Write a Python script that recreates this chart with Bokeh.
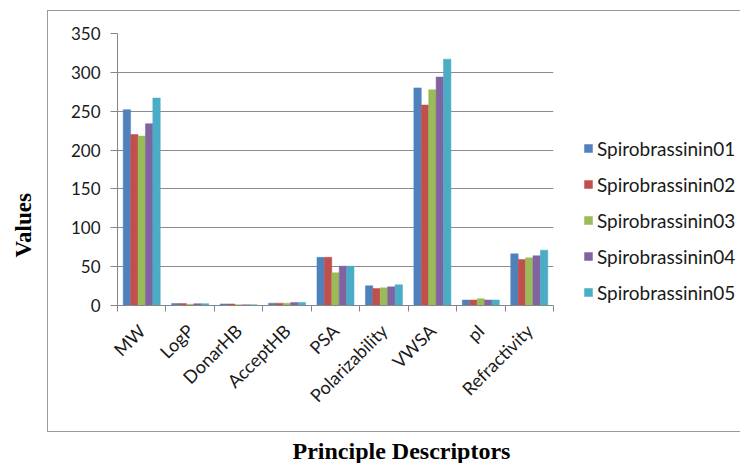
import numpy as np
from bokeh.plotting import figure
from bokeh.models import (ColumnDataSource, FixedTicker, Range1d, Legend, LegendItem,
                          Title, InlineStyleSheet)
from bokeh.transform import dodge
from bokeh.embed import file_html
from bokeh.resources import INLINE

categories = ["MW", "LogP", "DonarHB", "AcceptHB", "PSA", "Polarizability", "VWSA", "pI", "Refractivity"]
series_names = ["Spirobrassinin01", "Spirobrassinin02", "Spirobrassinin03", "Spirobrassinin04", "Spirobrassinin05"]
s01 = [252, 2.6, 2.0, 3.0, 62.0, 25.3, 280.0, 7.0, 66.5]
s02 = [220, 2.6, 2.0, 3.0, 62.0, 21.9, 258.0, 7.0, 59.2]
s03 = [218, 1.6, 1.0, 3.0, 42.0, 22.7, 277.5, 8.6, 61.3]
s04 = [234, 2.4, 1.0, 4.0, 50.6, 24.0, 294.0, 7.0, 64.0]
s05 = [267, 2.4, 1.0, 4.0, 50.6, 26.6, 317.0, 7.0, 71.2]
series_values = [s01, s02, s03, s04, s05]
colors = ["#4F81BD", "#C0504D", "#9BBB59", "#8064A2", "#4BACC6"]
y_ticks = [0, 50, 100, 150, 200, 250, 300, 350]

centers = [i + 0.5 for i in range(len(categories))]
data = {"x": centers}
for name, vals in zip(series_names, series_values):
    data[name] = vals
source = ColumnDataSource(data)

FL, FR, FT, FB = 117, 553, 33, 305
W, H = 740, 463
SHIFT = 23  # left panel grows by this much; host is shifted back

border_css = InlineStyleSheet(css=f"""
:host {{ position: relative; margin-left: -{SHIFT}px; margin-bottom: -30px; }}
:host::after {{
  content: "";
  position: absolute;
  left: {47 + SHIFT}px; top: 10px;
  width: 740px; height: 422px;
  border: 1.5px solid #9a9a9a;
  box-sizing: border-box;
  pointer-events: none;
}}
""")

p = figure(frame_width=FR - FL, frame_height=FB - FT, output_backend="svg",
           toolbar_location=None,
           x_range=Range1d(0, len(categories)), y_range=Range1d(0, 350),
           min_border_left=FL, min_border_right=W - FR, min_border_top=FT,
           min_border_bottom=H - FB, stylesheets=[border_css])
p.outline_line_color = None
p.background_fill_color = "white"
p.border_fill_color = "white"

bw = 0.153
items = []
for k, (name, col) in enumerate(zip(series_names, colors)):
    r = p.vbar(x=dodge("x", (k - 2) * bw, range=p.x_range), top=name, width=bw,
               source=source, fill_color=col, line_color=col, line_width=0.5)
    items.append(LegendItem(label=name, renderers=[r]))

# x axis
p.xaxis.ticker = FixedTicker(ticks=centers, minor_ticks=list(range(len(categories) + 1)))
p.xaxis.major_label_overrides = {c: lab for c, lab in zip(centers, categories)}
p.xaxis.major_label_orientation = np.pi / 4
p.xaxis.major_tick_out = 0
p.xaxis.major_tick_in = 0
p.xaxis.minor_tick_out = 6
p.xaxis.minor_tick_in = 0
p.xaxis.minor_tick_line_color = "#868686"
p.xaxis.axis_line_color = "#868686"
p.xaxis.major_label_standoff = 16
p.xaxis.major_label_text_font = "Lato"
p.xaxis.major_label_text_font_size = "18px"
p.xaxis.major_label_text_color = "#1a1a1a"

# y axis
p.yaxis.ticker = FixedTicker(ticks=y_ticks)
p.yaxis.major_tick_out = 7
p.yaxis.major_tick_in = 0
p.yaxis.minor_tick_line_color = None
p.yaxis.major_tick_line_color = "#868686"
p.yaxis.axis_line_color = "#868686"
p.yaxis.major_label_standoff = 10
p.yaxis.major_label_text_font = "Lato"
p.yaxis.major_label_text_font_size = "17px"
p.yaxis.major_label_text_color = "#1a1a1a"

p.xgrid.grid_line_color = None
p.ygrid.ticker = FixedTicker(ticks=y_ticks)
p.ygrid.grid_line_color = "#8c8c8c"
p.ygrid.grid_line_width = 1

legend = Legend(items=items, location=(30, 1), padding=0, margin=0,
                border_line_color=None, background_fill_alpha=0,
                glyph_width=10, glyph_height=10, label_height=24, spacing=12,
                label_standoff=4, label_text_font="Lato", label_text_font_size="19px",
                label_text_color="#1a1a1a")
p.add_layout(legend, "right")

p.add_layout(Title(text="Values", align="left", offset=48, text_font="Liberation Serif",
                   text_font_style="bold", text_font_size="23px", text_color="black",
                   standoff=54 + (SHIFT - 14)), "left")
p.add_layout(Title(text="Principle Descriptors", align="left", offset=175,
                   text_font="Liberation Serif", text_font_style="bold",
                   text_font_size="24px", text_color="black", standoff=37), "below")

open("out.html", "w").write(file_html(p, INLINE))
